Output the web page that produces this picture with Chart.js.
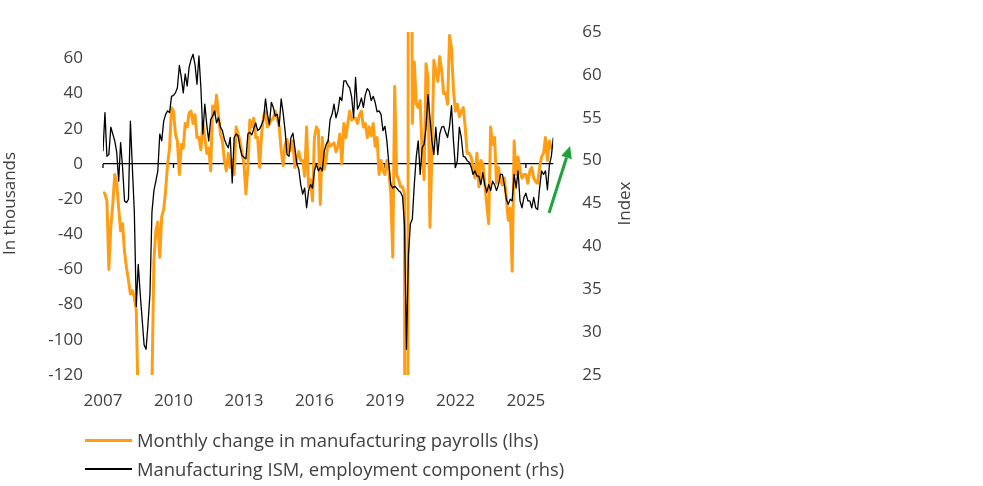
<!DOCTYPE html>
<html><head><meta charset="utf-8">
<script src="https://cdn.jsdelivr.net/npm/chart.js@4.4.1/dist/chart.umd.min.js"></script>
<style>
html,body{margin:0;padding:0;background:#fff;}
#wrap{position:relative;width:983px;height:486px;overflow:hidden;}
canvas{position:absolute;left:0;top:0;}
.leg{position:absolute;left:85px;height:20px;line-height:20px;font-family:'Open Sans';font-size:18.4px;color:#404040;white-space:nowrap;display:flex;align-items:center;}
.leg i{display:inline-block;width:47px;margin-right:5px;}
</style></head><body>
<div id="wrap"><canvas id="c" width="983" height="486"></canvas>
<div class="leg" style="top:430px"><i style="height:3px;background:#FF9E14"></i><span>Monthly change in manufacturing payrolls (lhs)</span></div>
<div class="leg" style="top:459px"><i style="height:1.4px;background:#000"></i><span>Manufacturing ISM, employment component (rhs)</span></div>
</div>
<script>
const startYear = 2007;
const startMonth = 5;
const tickYears = ['2007','2010','2013','2016','2019','2022','2025'];
const leftTicks = [-120,-100,-80,-60,-40,-20,0,20,40,60];

// Monthly change in manufacturing payrolls, thousands (lhs)
const payrolls = [
 -16,-17,-21,-60,-36,-23,-6,-11,-25,-38,
 -34,-50,-59,-66,-74,-72,-76,-83,-140,-170,
 -190,-175,-165,-160,-150,-125,-55,-38,-33,-53,
 -30,-26,-15,0,9,32,30,17,13,-6,
 11,9,23,21,29,30,23,28,15,15,
 8,23,15,6,9,-4,33,28,39,27,
 17,13,2,-4,6,-2,2,-6,21,17,
 13,6,0,-17,-2,25,21,26,15,15,
 -2,17,27,30,21,23,25,26,30,26,
 21,8,-1,11,14,7,8,13,-2,3,
 7,2,2,-7,21,-13,-9,-21,15,21,
 19,-23,15,-3,3,13,10,11,12,7,
 10,17,0,23,15,23,30,25,26,26,
 23,28,30,21,23,15,21,16,23,10,
 15,-6,2,-4,-6,2,-4,-17,-53,44,
 -6,-9,-13,-13,-17,-1300,250,350,23,58,
 34,32,36,6,-9,57,49,-36,6,59,
 53,47,61,53,40,40,34,73,66,42,
 30,34,27,30,32,21,6,6,4,-2,
 -8,6,-13,2,0,-11,-23,-34,21,11,
 15,-11,-2,-9,-12,-8,-19,-32,-25,-61,
 13,-6,4,-4,-8,-6,-6,-11,-4,-2,
 -8,-10,-11,-2,4,6,15,2,13,9,11
];

// Manufacturing ISM, employment component, index (rhs)
const ismEmployment = [
 51.1,55.6,50.5,50.7,53.9,53.1,52.3,51.0,47.6,52.1,
 49.2,45.3,45.1,45.5,54.6,49.2,44.0,33.0,37.9,34.5,
 31.5,28.5,28.0,31.0,34.5,44.0,46.5,47.6,48.8,53.1,
 52.3,54.6,55.4,55.8,55.6,57.5,57.6,57.9,58.5,61.1,
 59.7,57.9,60.1,58.7,60.9,61.8,62.4,61.2,58.9,62.2,
 58.5,53.1,56.6,54.2,52.3,54.8,55.2,55.8,54.4,55.0,
 53.9,53.5,52.5,51.9,51.5,52.7,47.4,52.7,53.1,52.9,
 51.5,50.6,50.4,50.2,53.1,53.3,53.0,53.7,54.4,53.5,
 53.7,54.2,54.8,57.2,55.4,54.2,56.8,56.2,55.2,55.4,
 54.0,57.2,55.6,53.5,50.7,50.5,52.7,53.2,51.5,49.6,
 49.0,47.2,46.1,46.8,44.5,46.5,47.2,46.8,48.8,49.6,
 48.8,49.2,48.8,51.1,51.9,52.3,54.8,55.4,56.6,55.0,
 55.8,57.4,57.0,59.3,59.3,58.8,58.5,57.4,55.0,59.7,
 56.0,56.5,57.3,56.2,57.7,58.4,58.1,57.0,57.5,56.8,
 55.7,55.8,55.4,53.5,54.0,52.3,49.6,47.2,46.8,47.0,
 46.8,46.5,46.3,45.8,42.5,28.0,39.0,42.6,43.2,47.2,
 50.4,52.3,48.4,51.5,51.9,53.9,57.7,55.0,52.3,50.7,
 53.9,50.7,53.1,53.9,54.0,53.3,52.7,54.0,56.4,52.3,
 49.2,50.0,53.9,52.7,50.5,50.4,50.0,49.8,49.3,48.4,
 48.8,48.2,48.2,47.2,48.6,47.2,46.3,47.2,46.5,47.6,
 47.2,46.5,47.2,48.4,48.4,47.2,45.5,44.9,45.5,45.3,
 48.4,46.8,48.8,45.3,44.5,45.7,46.2,45.3,45.3,44.5,
 45.7,44.5,44.3,46.8,48.8,48.4,48.8,46.6,49.5,50.5,52.7
];

const months = payrolls.map((_, i) => {
  const m = startMonth - 1 + i;
  return (startYear + Math.floor(m / 12)) + '-' + String(m % 12 + 1).padStart(2, '0');
});

// green trend arrow, in (month index, index value) on the rhs scale
const arrowFrom = [227.8, 43.9];
const arrowTo = [238.6, 51.7];

const FONT = {family: "'Open Sans'", size: 17};
const TXT = '#404040';

const noPad = ax => { ax.paddingTop = 0; ax.paddingBottom = 0; };

const extras = {
  id: 'extras',
  beforeDatasetsDraw(chart) {
    const ctx = chart.ctx, x = chart.scales.x, yl = chart.scales.yL;
    const y0 = yl.getPixelForValue(0);
    ctx.save();
    ctx.strokeStyle = '#000'; ctx.lineWidth = 1.3;
    x.ticks.forEach(t => {
      const px = x.getPixelForValue(t.value);
      ctx.beginPath(); ctx.moveTo(px, y0); ctx.lineTo(px, y0 + 4); ctx.stroke();
    });
    ctx.restore();
  },
  afterDatasetsDraw(chart) {
    const ctx = chart.ctx, x = chart.scales.x, yr = chart.scales.yR, a = chart.chartArea;
    const x1 = x.getPixelForValue(arrowFrom[0]), y1 = yr.getPixelForValue(arrowFrom[1]);
    const x2 = x.getPixelForValue(arrowTo[0]), y2 = yr.getPixelForValue(arrowTo[1]);
    const ang = Math.atan2(y2 - y1, x2 - x1), hl = 12, hw = 5.5;
    const bx = x2 - hl * Math.cos(ang), by = y2 - hl * Math.sin(ang);
    ctx.save();
    ctx.strokeStyle = '#1FA33A'; ctx.fillStyle = '#1FA33A'; ctx.lineWidth = 3;
    ctx.beginPath(); ctx.moveTo(x1, y1); ctx.lineTo(bx, by); ctx.stroke();
    ctx.beginPath();
    ctx.moveTo(x2, y2);
    ctx.lineTo(bx + hw * Math.sin(ang), by - hw * Math.cos(ang));
    ctx.lineTo(bx - hw * Math.sin(ang), by + hw * Math.cos(ang));
    ctx.closePath(); ctx.fill();
    // right axis title, reading bottom to top
    ctx.translate(625, (a.top + a.bottom) / 2);
    ctx.rotate(-Math.PI / 2);
    ctx.font = "17px 'Open Sans'"; ctx.fillStyle = TXT;
    ctx.textAlign = 'center'; ctx.textBaseline = 'middle';
    ctx.fillText('Index', 0, 0);
    ctx.restore();
  }
};

new Chart(document.getElementById('c'), {
  type: 'line',
  data: {
    labels: months,
    datasets: [
      {label: 'Monthly change in manufacturing payrolls (lhs)', data: payrolls, yAxisID: 'yL',
       borderColor: '#FF9E14', borderWidth: 3, pointRadius: 0, borderJoinStyle: 'round', order: 1, clip: 0},
      {label: 'Manufacturing ISM, employment component (rhs)', data: ismEmployment, yAxisID: 'yR',
       borderColor: '#000', borderWidth: 1.3, pointRadius: 0, borderJoinStyle: 'round', order: 0, clip: 0}
    ]
  },
  options: {
    responsive: false, animation: false, devicePixelRatio: 1,
    layout: {padding: {top: 32, bottom: 76, left: 0, right: 0}},
    plugins: {legend: {display: false}, tooltip: {enabled: false}},
    scales: {
      x: {
        type: 'category',
        grid: {display: false, drawTicks: false}, border: {display: false},
        ticks: {autoSkip: false, maxRotation: 0, padding: 16, font: FONT, color: TXT,
                callback: v => tickYears[v / 36]},
        afterBuildTicks: ax => { ax.ticks = ax.ticks.filter(t => t.value % 36 === 0); },
        afterFit: ax => { ax.height = 35; ax.paddingLeft = 0; ax.paddingRight = 0; }
      },
      yL: {
        position: 'left', min: -120, max: 75,
        afterBuildTicks: ax => { ax.ticks = leftTicks.map(v => ({value: v})); },
        grid: {drawTicks: false, lineWidth: 1.3,
               color: c => (c.tick && c.tick.value === 0) ? '#000' : 'rgba(0,0,0,0)'},
        border: {display: false},
        ticks: {padding: 20, font: FONT, color: TXT},
        title: {display: true, text: 'In thousands', font: FONT, color: TXT, padding: 0},
        afterFit: ax => { ax.width = 103; noPad(ax); }
      },
      yR: {
        position: 'right', min: 25, max: 65,
        grid: {display: false, drawTicks: false}, border: {display: false},
        ticks: {stepSize: 5, padding: 29, font: FONT, color: TXT},
        afterFit: ax => { ax.width = 429.7; noPad(ax); }
      }
    }
  },
  plugins: [extras]
});
</script>
</body></html>
